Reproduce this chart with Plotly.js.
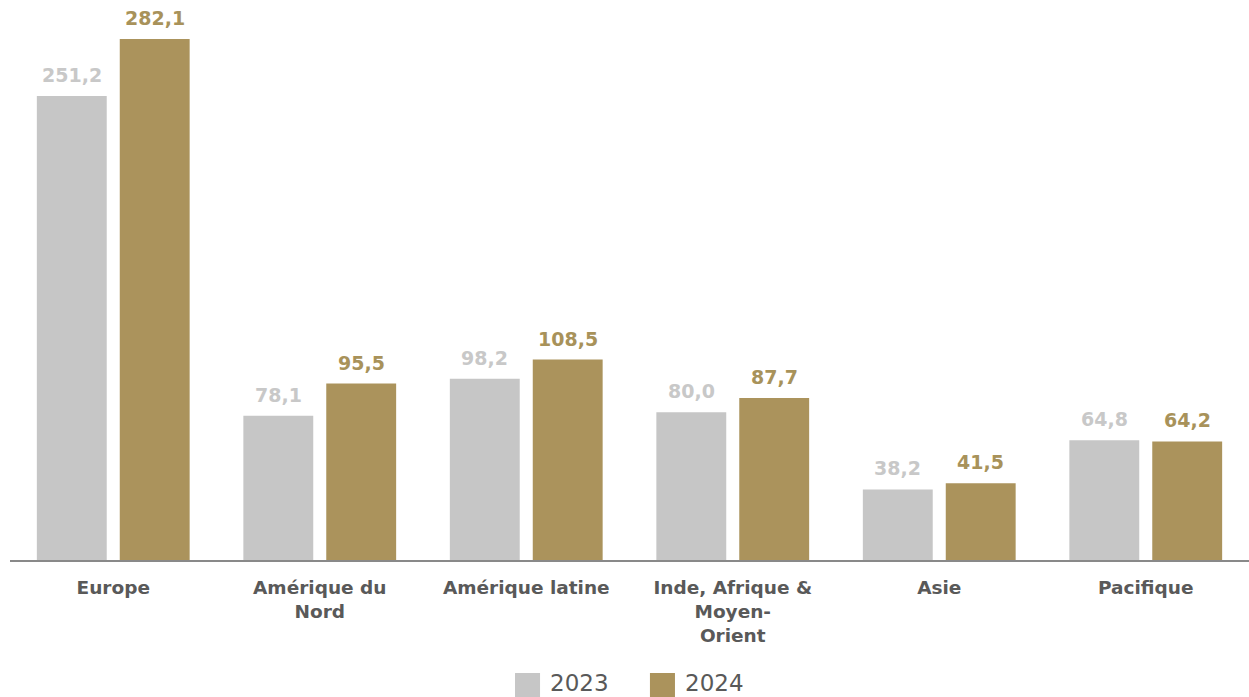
<!DOCTYPE html>
<html>
<head>
<meta charset="utf-8">
<script src="https://cdn.plot.ly/plotly-3.0.1.min.js"></script>
<style>html,body{margin:0;padding:0;background:#fff;}#chart{width:1249px;height:697px;}</style>
</head>
<body>
<div id="chart"></div>
<script>
const categories = ["Europe", "Amérique du<br>Nord", "Amérique latine", "Inde, Afrique &<br>Moyen-<br>Orient", "Asie", "Pacifique"];
const values2023 = [251.2, 78.1, 98.2, 80.0, 38.2, 64.8];
const values2024 = [282.1, 95.5, 108.5, 87.7, 41.5, 64.2];
const seriesNames = ["2023", "2024"];

const FONT = "Verdana, 'DejaVu Sans', sans-serif";
const BAR_COLORS = ["#c6c6c6", "#ab935c"];
const LABEL_COLORS = ["#c8c8c8", "#a8925a"];
const BARGAP = 0.197;
const series = [values2023, values2024];

const traces = series.map((vals, s) => ({
  type: "bar", name: seriesNames[s], x: categories, y: vals,
  marker: {color: BAR_COLORS[s]},
  showlegend: false,
  hoverinfo: "x+y"
}));

// value labels placed above each bar (offset derived from bar layout)
const slot = (1 - BARGAP) / 2;
const fmt = v => v.toFixed(1).replace(".", ",");
const annotations = [];
series.forEach((vals, s) => {
  vals.forEach((v, i) => {
    annotations.push({
      x: i + (s === 0 ? -slot / 2 : slot / 2), y: v, xref: "x", yref: "y",
      text: "<b>" + fmt(v) + "</b>", showarrow: false,
      xanchor: "center", yanchor: "bottom", yshift: 8,
      font: {family: FONT, size: 19, color: LABEL_COLORS[s]}
    });
  });
});

// legend (large square swatches)
const legendItems = [
  {sx0: 0.4076, sx1: 0.4278, tx: 0.4342},
  {sx0: 0.5165, sx1: 0.5367, tx: 0.5432}
];
const shapes = [];
legendItems.forEach((it, s) => {
  shapes.push({
    type: "rect", xref: "paper", yref: "paper",
    x0: it.sx0, x1: it.sx1, y0: -0.2509, y1: -0.2055,
    fillcolor: BAR_COLORS[s], line: {width: 0}
  });
  annotations.push({
    x: it.tx, y: -0.2236, xref: "paper", yref: "paper",
    text: seriesNames[s], showarrow: false, xanchor: "left", yanchor: "middle",
    font: {family: FONT, size: 23, color: "#595959"}
  });
});

const layout = {
  width: 1249, height: 697,
  margin: {l: 10, r: 0, t: 10, b: 137},
  paper_bgcolor: "#ffffff", plot_bgcolor: "#ffffff",
  separators: ", ",
  barmode: "group", bargap: BARGAP, bargroupgap: 0.157,
  showlegend: false,
  xaxis: {
    type: "category", showline: true, linecolor: "#898989", linewidth: 2,
    showgrid: false, zeroline: false, ticks: "", automargin: false,
    ticklabelstandoff: 10,
    tickfont: {family: FONT, size: 18.5, color: "#595959", weight: "bold"},
    fixedrange: true
  },
  yaxis: {
    visible: false, range: [0, 297.8], showgrid: false, zeroline: false, fixedrange: true
  },
  annotations: annotations,
  shapes: shapes,
  font: {family: FONT}
};

Plotly.newPlot("chart", traces, layout, {displayModeBar: false, staticPlot: true});
</script>
</body>
</html>
